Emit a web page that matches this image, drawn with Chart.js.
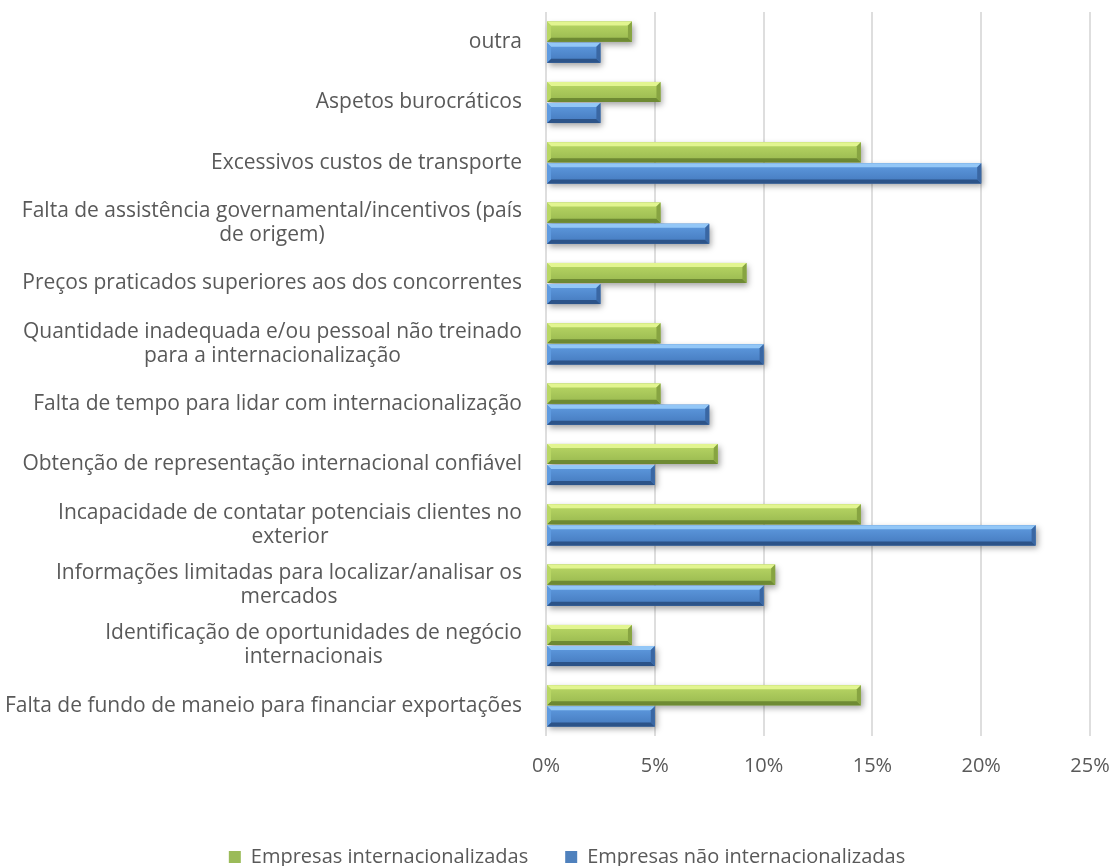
<!DOCTYPE html>
<html>
<head>
<meta charset="utf-8">
<script src="https://cdn.jsdelivr.net/npm/chart.js@4.4.1/dist/chart.umd.min.js"></script>
<style>
    html, body { margin: 0; padding: 0; background: #fff; }
    #wrap { width: 1113px; height: 866px; position: relative; }
</style>
</head>
<body>
<div id="wrap"><canvas id="chart"></canvas></div>
<script>
// Obstáculos à internacionalização (% de empresas)
const categories = [
    'outra',
    'Aspetos burocráticos',
    'Excessivos custos de transporte',
    ['Falta de assistência governamental/incentivos (país', 'de origem)'],
    'Preços praticados superiores aos dos concorrentes',
    ['Quantidade inadequada e/ou pessoal não treinado', 'para a internacionalização'],
    'Falta de tempo para lidar com internacionalização',
    'Obtenção de representação internacional confiável',
    ['Incapacidade de contatar potenciais clientes no', 'exterior'],
    ['Informações limitadas para localizar/analisar os', 'mercados'],
    ['Identificação de oportunidades de negócio', 'internacionais'],
    'Falta de fundo de maneio para financiar exportações'
];
const seriesNames = ['Empresas internacionalizadas', 'Empresas não internacionalizadas'];
const internacionalizadas = [3.95, 5.26, 14.47, 5.26, 9.21, 5.26, 5.26, 7.89, 14.47, 10.53, 3.95, 14.47];
const naoInternacionalizadas = [2.5, 2.5, 20, 7.5, 2.5, 10, 7.5, 5, 22.5, 10, 5, 5];
const xTicks = [0, 5, 10, 15, 20, 25];

const FONT = '"Open Sans", sans-serif';
const TEXT = '#595959';

// bevelled bar colours: light edge, top of face, bottom of face, dark edge, end cap
const palettes = [
    { light: '#e2f590', top: '#b9d765', bottom: '#98b84f', dark: '#6e8a33', end: '#87a442', solid: '#9bbb59' },
    { light: '#93c7f7', top: '#5f9be0', bottom: '#4479bd', dark: '#2c5388', end: '#3a67a3', solid: '#4f81bd' }
];

// draws every bar as a bevelled slab with a soft drop shadow
const bevelBars = {
    id: 'bevelBars',
    afterDatasetsDraw(chart) {
        const ctx = chart.ctx;
        chart.data.datasets.forEach((ds, di) => {
            const pal = palettes[di];
            chart.getDatasetMeta(di).data.forEach(bar => {
                const x0 = bar.base, x1 = bar.x;
                const y0 = bar.y - bar.height / 2, y1 = bar.y + bar.height / 2;
                const h = y1 - y0;
                const b = Math.min(4, (x1 - x0) / 2);

                ctx.save();
                ctx.shadowColor = 'rgba(0,0,0,0.35)';
                ctx.shadowBlur = 6;
                ctx.shadowOffsetX = 2;
                ctx.shadowOffsetY = 3;
                const g = ctx.createLinearGradient(0, y0, 0, y1);
                g.addColorStop(0, pal.top);
                g.addColorStop(1, pal.bottom);
                ctx.fillStyle = g;
                ctx.fillRect(x0, y0, x1 - x0, h);
                ctx.restore();

                const poly = (pts, color) => {
                    ctx.beginPath();
                    ctx.moveTo(pts[0][0], pts[0][1]);
                    for (let i = 1; i < pts.length; i++) ctx.lineTo(pts[i][0], pts[i][1]);
                    ctx.closePath();
                    ctx.fillStyle = color;
                    ctx.fill();
                };
                ctx.save();
                poly([[x0, y0], [x1, y0], [x1 - b, y0 + b], [x0 + b, y0 + b]], pal.light);
                poly([[x0, y1], [x1, y1], [x1 - b, y1 - b], [x0 + b, y1 - b]], pal.dark);
                poly([[x0, y0], [x0 + b, y0 + b], [x0 + b, y1 - b], [x0, y1]], pal.top);
                poly([[x1, y0], [x1 - b, y0 + b], [x1 - b, y1 - b], [x1, y1]], pal.end);
                ctx.restore();
            });
        });
    }
};

// category labels: right-aligned block, wrapped lines centred on each other
const categoryLabels = {
    id: 'categoryLabels',
    afterDraw(chart) {
        const ctx = chart.ctx;
        const yScale = chart.scales.y;
        const right = chart.chartArea.left - 24;
        const lineH = 24;
        ctx.save();
        ctx.font = '21px ' + FONT;
        ctx.fillStyle = TEXT;
        ctx.textAlign = 'center';
        ctx.textBaseline = 'middle';
        categories.forEach((label, i) => {
            const lines = Array.isArray(label) ? label : [label];
            const w = Math.max(...lines.map(l => ctx.measureText(l).width));
            const cx = right - w / 2;
            const cy = yScale.getPixelForTick(i);
            lines.forEach((line, li) => {
                ctx.fillText(line, cx, cy + (li - (lines.length - 1) / 2) * lineH);
            });
        });
        ctx.restore();
    }
};

// nudge the legend row a little to the right of centre
const legendShift = {
    id: 'legendShift',
    afterLayout(chart) {
        chart.legend.left += 22;
        chart.legend.right += 22;
    }
};

new Chart(document.getElementById('chart'), {
    type: 'bar',
    data: {
        labels: categories,
        datasets: [
            { label: seriesNames[0], data: internacionalizadas, backgroundColor: palettes[0].solid },
            { label: seriesNames[1], data: naoInternacionalizadas, backgroundColor: palettes[1].solid }
        ]
    },
    options: {
        indexAxis: 'y',
        responsive: true,
        maintainAspectRatio: false,
        animation: false,
        layout: { padding: { top: 12, right: 23, left: 0, bottom: -11 } },
        datasets: { bar: { categoryPercentage: 0.7, barPercentage: 0.95 } },
        scales: {
            x: {
                min: 0,
                max: 25,
                afterBuildTicks(scale) { scale.ticks = xTicks.map(v => ({ value: v })); },
                afterFit(scale) {
                    scale.height = 74;
                    scale.paddingRight = 0;
                },
                grid: { color: '#dedede', lineWidth: 2, drawTicks: false },
                border: { display: false },
                ticks: {
                    padding: 18,
                    color: TEXT,
                    font: { family: FONT, size: 20 },
                    callback: v => v + '%'
                }
            },
            y: {
                grid: { display: false },
                border: { display: false },
                ticks: { display: false },
                afterFit(scale) { scale.width = 546; }
            }
        },
        plugins: {
            tooltip: { enabled: false },
            legend: {
                position: 'bottom',
                labels: {
                    boxWidth: 12,
                    boxHeight: 12,
                    padding: 37,
                    color: TEXT,
                    font: { family: FONT, size: 20 }
                }
            }
        }
    },
    plugins: [bevelBars, categoryLabels, legendShift]
});
</script>
</body>
</html>
